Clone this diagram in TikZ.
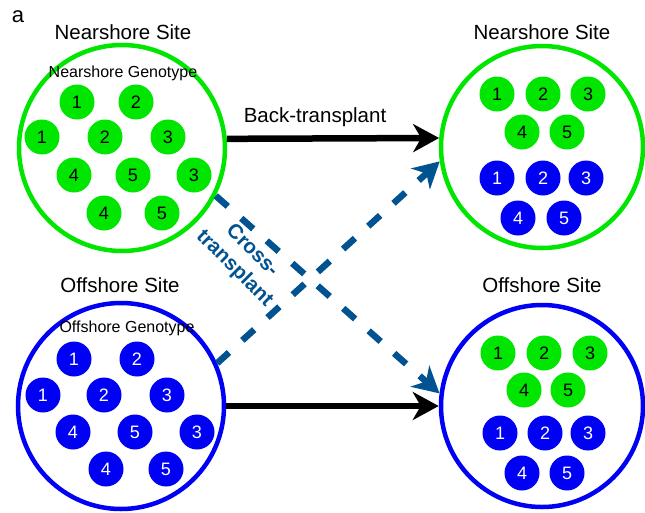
\documentclass[tikz,border=0pt]{standalone}
\usepackage{fontspec}
\setmainfont{Liberation Sans}
\usetikzlibrary{arrows.meta}
\definecolor{nearGreen}{RGB}{0,230,0}
\definecolor{offBlue}{RGB}{0,0,245}
\definecolor{crossBlue}{RGB}{0,82,145}
\newcommand{\nearG}[4]{\node[nearDot] (#1) at (#2,#3) {#4};}
\newcommand{\offG}[4]{\node[offDot] (#1) at (#2,#3) {#4};}

\begin{document}
\begin{tikzpicture}[x=1pt,y=-1pt,
    site/.style={circle, line width=4.5pt, minimum size=206pt, inner sep=0pt},
    nearDot/.style={circle, fill=nearGreen, minimum size=35pt, inner sep=0pt, text=black, font=\fontsize{18}{20}\selectfont},
    offDot/.style={circle, fill=offBlue, minimum size=35pt, inner sep=0pt, text=white, font=\fontsize{18}{20}\selectfont},
    title/.style={font=\fontsize{20.5}{24}\selectfont},
    backArrow/.style={line width=6.5pt, -{Stealth[length=26pt,width=28pt,inset=8pt]}},
    crossArrow/.style={crossBlue, line width=6.5pt, dash pattern=on 16pt off 18pt, -{Stealth[length=26pt,width=28pt,inset=8pt]}}]
    \useasboundingbox (0,0) rectangle (645,512);
    \node[font=\fontsize{22}{24}\selectfont] (panel) at (18,17) {a};
    % titles
    \node[title] (tNearL) at (123,32) {Nearshore Site};
    \node[title] (tNearR) at (542,32) {Nearshore Site};
    \node[title] (tOffL) at (120,285) {Offshore Site};
    \node[title] (tOffR) at (542,285) {Offshore Site};
    % sites
    \node[site, draw=nearGreen] (nearL) at (122,148) {};
    \node[site, draw=nearGreen, minimum size=202pt] (nearR) at (542,147) {};
    \node[site, draw=offBlue] (offL) at (121,406) {};
    \node[site, draw=offBlue, minimum size=202pt] (offR) at (542,406) {};
    \node[font=\fontsize{16}{18}\selectfont] (gNear) at (123,73) {Nearshore Genotype};
    \node[font=\fontsize{16}{18}\selectfont] (gOff) at (127,328) {Offshore Genotype};
    % nearshore site, home
    \nearG{a1}{77}{102}{1}
    \nearG{a2}{136}{102}{2}
    \nearG{a3}{42}{137}{1}
    \nearG{a4}{105}{137}{2}
    \nearG{a5}{168}{137}{3}
    \nearG{a6}{74}{175}{4}
    \nearG{a7}{133}{175}{5}
    \nearG{a8}{194}{175}{3}
    \nearG{a9}{104}{213}{4}
    \nearG{a10}{162}{213}{5}
    % offshore site, home
    \offG{b1}{74}{359}{1}
    \offG{b2}{137}{359}{2}
    \offG{b3}{43}{395}{1}
    \offG{b4}{104}{395}{2}
    \offG{b5}{167}{395}{3}
    \offG{b6}{73}{432}{4}
    \offG{b7}{135}{432}{5}
    \offG{b8}{197}{432}{3}
    \offG{b9}{106}{469}{4}
    \offG{b10}{166}{469}{5}
    % nearshore site, after
    \nearG{c1}{497}{94}{1}
    \nearG{c2}{543}{94}{2}
    \nearG{c3}{588}{94}{3}
    \nearG{c4}{522}{132}{4}
    \nearG{c5}{567}{132}{5}
    \offG{c6}{497}{178}{1}
    \offG{c7}{543}{178}{2}
    \offG{c8}{586}{178}{3}
    \offG{c9}{518}{218}{4}
    \offG{c10}{564}{218}{5}
    % offshore site, after
    \nearG{d1}{498}{353}{1}
    \nearG{d2}{544}{353}{2}
    \nearG{d3}{590}{353}{3}
    \nearG{d4}{524}{390}{4}
    \nearG{d5}{568}{390}{5}
    \offG{d6}{500}{433}{1}
    \offG{d7}{545}{433}{2}
    \offG{d8}{588}{433}{3}
    \offG{d9}{522}{473}{4}
    \offG{d10}{567}{473}{5}
    % arrows
    \draw[backArrow] (nearL.5) -- (nearR.175);
    \draw[backArrow] (offL.east) -- (offR.west);
    \node[title] (back) at (315,117) {Back-transplant};
    \draw[crossArrow] (nearL.-27) -- (offR.173);
    \draw[crossArrow] (offL.24) -- (nearR.-172);
    \node[title, font=\fontsize{20.5}{25}\bfseries, text=crossBlue, rotate=-45, align=center] (cross) at (243,260) {Cross-\\transplant};
\end{tikzpicture}
\end{document}
